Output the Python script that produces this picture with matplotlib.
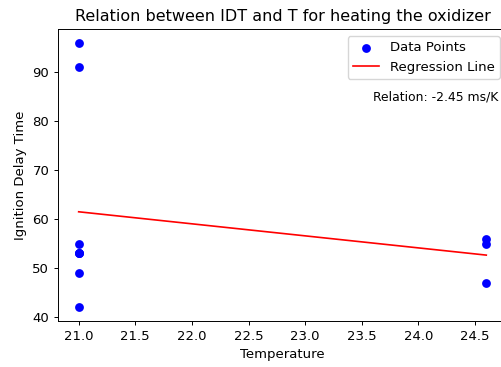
"""Ignition delay time vs. oxidizer temperature with a linear fit."""

import matplotlib
matplotlib.use("Agg")
import matplotlib.pyplot as plt
import numpy as np

# measured points (temperature, ignition delay time)
temperature = [21.0, 21.0, 21.0, 21.0, 21.0, 21.0, 21.0, 21.0, 24.6, 24.6, 24.6]
ignition_delay = [96, 91, 55, 53, 53, 53, 49, 42, 56, 55, 47]

x = np.array(temperature)
y = np.array(ignition_delay, dtype=float)
slope, intercept = np.polyfit(x, y, 1)
x_fit = np.array([x.min(), x.max()])
y_fit = slope * x_fit + intercept

DPI = 100
fig = plt.figure(figsize=(502 / DPI, 367 / DPI), dpi=DPI)
ax = fig.add_axes([0.1161, 0.1262, 0.8932, 0.794])

ax.scatter(x, y, s=(8.8 * 72 / DPI) ** 2, color="blue", linewidths=0, label="Data Points")
ax.plot(x_fit, y_fit, color="red", linewidth=1.2, label="Regression Line")

ax.set_title("Relation between IDT and T for heating the oxidizer", fontsize=11.5)
ax.set_xlabel("Temperature", fontsize=9.5)
ax.set_ylabel("Ignition Delay Time", fontsize=9.5)
ax.tick_params(labelsize=9.5, length=3, width=0.7)
for spine in ax.spines.values():
    spine.set_linewidth(0.7)

ax.legend(loc="upper right", fontsize=9.5)
ax.text(0.981, 0.768, f"Relation: {slope:.2f} ms/K", transform=ax.transAxes,
        ha="right", va="center", fontsize=8.9)

fig.savefig("out.png", dpi=DPI)
plt.close(fig)
